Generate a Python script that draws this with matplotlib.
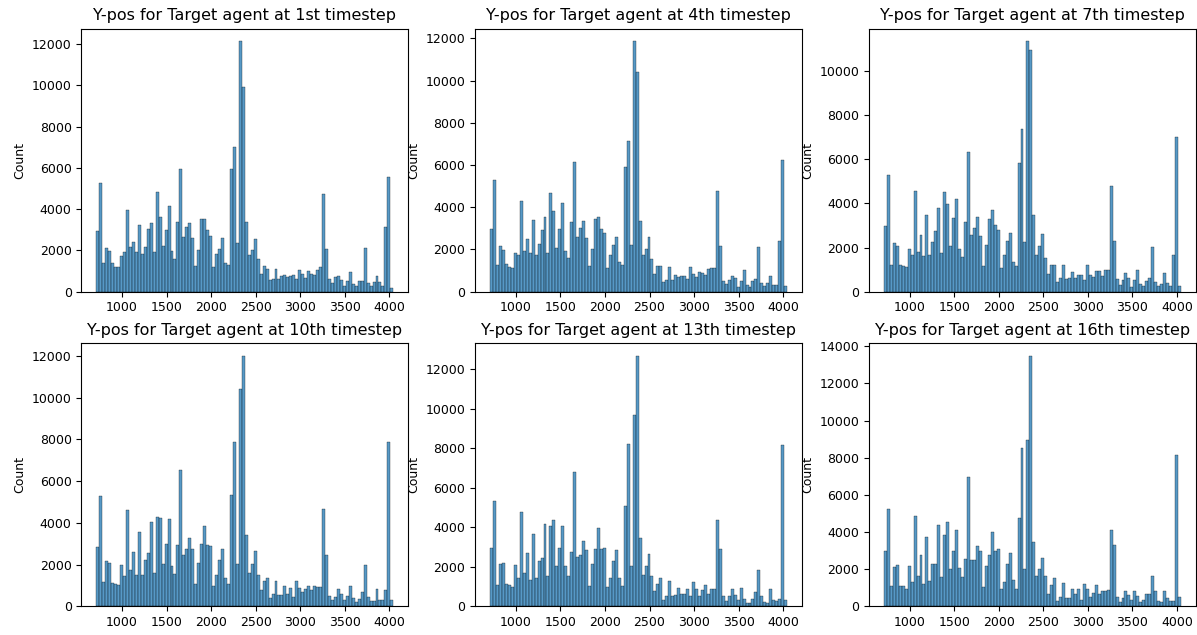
import numpy as np
import pandas as pd
import matplotlib
matplotlib.use("Agg")
import matplotlib.pyplot as plt
import seaborn as sns

# binned Y-pos counts (100 equal bins between bin_lo and bin_hi)
bin_lo, bin_hi, n_bins = 711, 4044, 100

ypos_t1 = [2950, 5280, 1380, 2120, 1960, 1380, 1200, 1200, 1750, 1900,
           3970, 2170, 2410, 1900, 3250, 1850, 2170, 3060, 3320, 1900,
           4830, 3640, 2220, 3000, 4160, 1980, 1590, 3400, 5960, 2670,
           3120, 3320, 2590, 1260, 2020, 3510, 3510, 3000, 2720, 1200,
           1810, 2090, 2600, 1410, 1300, 5960, 6990, 2350, 12140, 9940,
           3370, 1780, 2020, 2560, 1570, 860, 1250, 1100, 560, 620,
           1120, 620, 760, 810, 730, 780, 810, 620, 1050, 860,
           670, 980, 860, 830, 1070, 1200, 4740, 2090, 600, 410,
           700, 750, 570, 290, 510, 950, 350, 270, 530, 530,
           2100, 440, 290, 490, 750, 470, 300, 3120, 5570, 200]

ypos_t4 = [2990, 5310, 1280, 2160, 1980, 1310, 1190, 1110, 1850, 1740,
           4300, 1910, 2480, 1820, 3380, 1720, 2240, 2920, 3560, 1820,
           4680, 3810, 2090, 2970, 4190, 1910, 1610, 3300, 6130, 2610,
           3030, 3350, 2530, 1220, 2040, 3440, 3540, 2990, 2770, 1110,
           1720, 2200, 2610, 1420, 1260, 5890, 7140, 2210, 11870, 10430,
           3370, 1720, 2040, 2610, 1530, 840, 1220, 1220, 470, 570,
           1150, 570, 770, 680, 760, 760, 620, 1150, 840, 710,
           950, 900, 770, 1060, 1110, 1110, 4760, 2160, 510, 360,
           540, 760, 650, 240, 520, 1030, 320, 240, 520, 580,
           2100, 400, 280, 400, 760, 320, 320, 2420, 6260, 270]

ypos_t7 = [2960, 5270, 1220, 2200, 2080, 1220, 1160, 1120, 1950, 1660,
           4540, 1780, 2550, 1600, 3460, 1640, 2270, 2730, 3810, 1740,
           4490, 3990, 2070, 3350, 4180, 1950, 1590, 3160, 6300, 2550,
           2900, 3380, 2540, 1160, 2110, 3280, 3700, 3040, 2790, 1060,
           1650, 2310, 2670, 1330, 1180, 5810, 7350, 2250, 11340, 10920,
           3460, 1650, 2070, 2600, 1530, 800, 1210, 1210, 440, 600,
           1210, 560, 630, 910, 600, 740, 770, 510, 1220, 760,
           660, 940, 940, 720, 980, 980, 4790, 2310, 560, 320,
           540, 860, 600, 230, 540, 980, 360, 270, 500, 620,
           2010, 440, 270, 360, 860, 380, 270, 1650, 7020, 270]

ypos_t10 = [2870, 5310, 1150, 2160, 2100, 1120, 1060, 1030, 1970, 1470,
            4600, 1730, 2630, 1490, 3590, 1520, 2240, 2560, 4040, 1600,
            4300, 4220, 2040, 3000, 4170, 1920, 1540, 2950, 6520, 2480,
            2730, 3270, 2760, 1070, 2080, 3000, 3850, 2950, 2890, 960,
            1520, 2240, 2760, 1360, 1090, 5320, 7870, 2040, 10440, 12010,
            3400, 1600, 2040, 2640, 1520, 770, 1200, 1350, 400, 590,
            1200, 530, 530, 960, 590, 880, 450, 1200, 880, 690,
            830, 960, 790, 960, 910, 910, 4660, 2480, 510, 320,
            450, 830, 610, 320, 510, 960, 400, 190, 350, 690,
            1970, 450, 240, 240, 830, 320, 320, 770, 7870, 320]

ypos_t13 = [2970, 5320, 1100, 2160, 2210, 1150, 1100, 960, 2070, 1430,
            4770, 1690, 2700, 1350, 3640, 1420, 2290, 2430, 4180, 1530,
            4090, 4380, 2020, 2950, 4090, 2020, 1550, 2760, 6790, 2490,
            2610, 3300, 2860, 1010, 2160, 2900, 3960, 2900, 2950, 960,
            1420, 2290, 2830, 1430, 1010, 5060, 8210, 2020, 9690, 12670,
            3440, 1600, 2020, 2630, 1550, 760, 1130, 1420, 340, 540,
            1280, 510, 570, 940, 610, 610, 880, 510, 1210, 880,
            540, 810, 1080, 640, 880, 880, 4380, 2900, 540, 250,
            510, 880, 570, 340, 930, 370, 170, 170, 370, 720,
            1820, 540, 200, 170, 890, 340, 250, 400, 8160, 300]

ypos_t16 = [3000, 5230, 1080, 2140, 2210, 1080, 1080, 930, 2160, 1290,
            4890, 1650, 2790, 1220, 3740, 1380, 2280, 2280, 4370, 1580,
            3860, 4530, 2010, 3000, 4100, 2070, 1580, 2570, 6970, 2520,
            2520, 3230, 3000, 1020, 2160, 2790, 4010, 3000, 3090, 930,
            1330, 2280, 2880, 1440, 930, 4740, 8540, 2010, 8950, 13480,
            3450, 1650, 2010, 2590, 1650, 660, 1170, 1510, 310, 520,
            1260, 450, 450, 930, 650, 930, 360, 1220, 930, 500,
            720, 1150, 680, 810, 810, 860, 4100, 3310, 500, 220,
            430, 830, 610, 360, 810, 580, 220, 360, 680, 690,
            1650, 810, 290, 220, 840, 430, 270, 270, 8120, 490]

timesteps = ["1st", "4th", "7th", "10th", "13th", "16th"]
all_counts = [ypos_t1, ypos_t4, ypos_t7, ypos_t10, ypos_t13, ypos_t16]

edges = np.linspace(bin_lo, bin_hi, n_bins + 1)
centers = (edges[:-1] + edges[1:]) / 2

plt.rcParams['xtick.labelsize'] = 9
plt.rcParams['ytick.labelsize'] = 9
plt.rcParams['axes.labelsize'] = 9
plt.rcParams['axes.titlesize'] = 11.5

fig, axes = plt.subplots(2, 3, figsize=(11.97, 6.35), dpi=100)
fig.subplots_adjust(left=0.068, right=0.999, top=0.955, bottom=0.045,
                    wspace=0.205, hspace=0.196)

for ax, ts, counts in zip(axes.flat, timesteps, all_counts):
    df = pd.DataFrame({"ypos": centers, "n": counts})
    sns.histplot(data=df, x="ypos", weights="n", bins=n_bins,
                 binrange=(bin_lo, bin_hi), ax=ax)
    ax.set_title(f"Y-pos for Target agent at {ts} timestep")
    ax.set_xlabel("")
    ax.set_xticks([1000, 1500, 2000, 2500, 3000, 3500, 4000])

fig.savefig("out.png", dpi=100)
